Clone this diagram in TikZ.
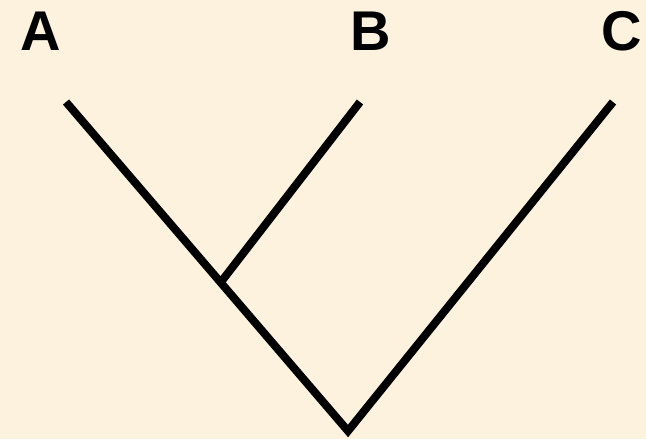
\documentclass[tikz,border=0pt]{standalone}
\usepackage{fontspec}
\setmainfont{Liberation Sans}
\definecolor{bg}{HTML}{FCF2DE}
\begin{document}
\begin{tikzpicture}[x=0.75pt,y=-0.75pt,
  branch/.style={line width=6pt,black,line join=miter},
  taxon/.style={font=\fontsize{42}{42}\selectfont\bfseries,anchor=base,inner sep=0pt}]
\fill[bg] (0,0) rectangle (646,439);
\useasboundingbox (0,0) rectangle (646,439);
\node[taxon] (la) at (41,50) {A};
\node[taxon] (lb) at (371,50) {B};
\node[taxon] (lc) at (622,50) {C};
\coordinate (a) at (66,102);
\coordinate (b) at (360,102);
\coordinate (c) at (613,102);
\coordinate (j) at (221,282);
\coordinate (r) at (348,431);
\draw[branch] (a) -- (r) -- (c);
\draw[branch] (b) -- (j);
\end{tikzpicture}
\end{document}
